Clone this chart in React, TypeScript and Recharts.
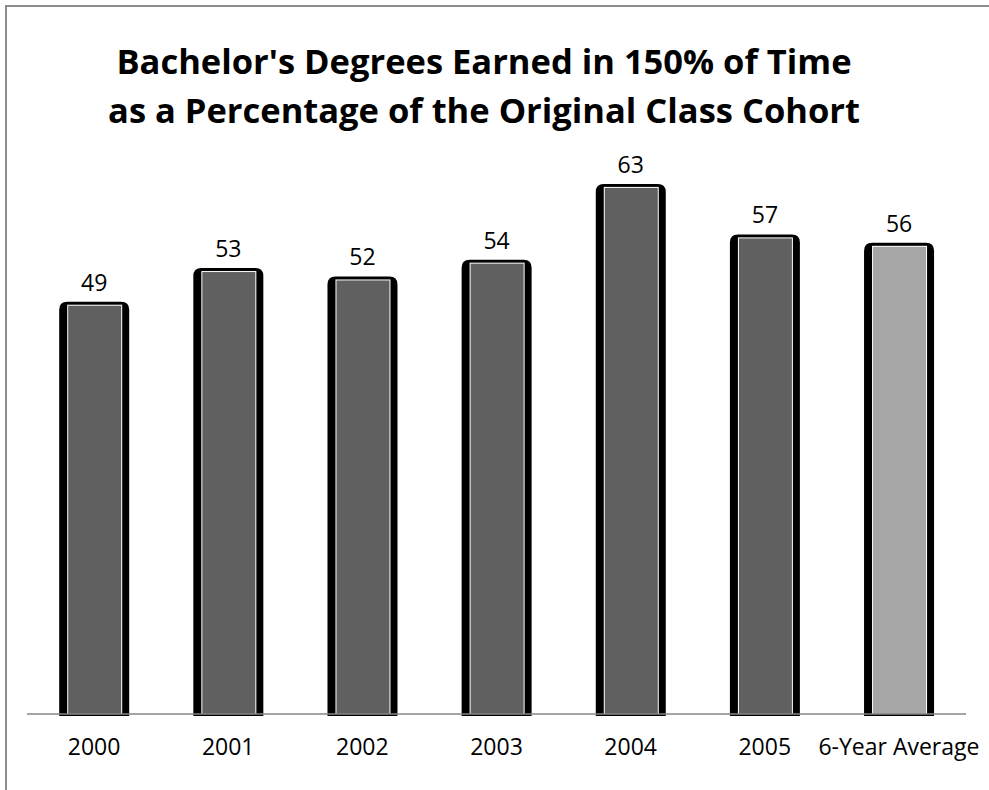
import { Bar, BarChart, Cell, LabelList, XAxis, YAxis } from "recharts";

const categories = ["2000", "2001", "2002", "2003", "2004", "2005", "6-Year Average"];
const rates = [49, 53, 52, 54, 63, 57, 56];
const titleLines = [
  "Bachelor's Degrees Earned in 150% of Time",
  "as a Percentage of the Original Class Cohort",
];

const data = categories.map((year, i) => ({ year, rate: rates[i] }));

const FONT = "'Open Sans', 'Noto Sans', sans-serif";

// black rounded frame, thin white rim, grey fill
function FramedBar(props: any) {
  const { x, y, width, height, fill } = props;
  if (height <= 0) return null;
  const r = 8;
  const bottom = y + height + 2;
  const outline = `M${x},${bottom} L${x},${y + r} Q${x},${y} ${x + r},${y} L${x + width - r},${y} Q${x + width},${y} ${x + width},${y + r} L${x + width},${bottom} Z`;
  return (
    <g>
      <path d={outline} fill="#000" />
      <rect x={x + 8} y={y + 3} width={width - 15} height={height - 3} fill="#fff" />
      <rect x={x + 9} y={y + 4} width={width - 17} height={height - 4} fill={fill} />
    </g>
  );
}

export default function App() {
  return (
    <div style={{ position: "absolute", left: 0, top: 0, width: 989, height: 790, background: "#fff", overflow: "hidden" }}>
      <div
        style={{
          position: "absolute",
          left: 5,
          top: 5,
          width: 1000,
          height: 800,
          borderLeft: "2px solid #8c8c8c",
          borderTop: "2px solid #8c8c8c",
        }}
      />
      <div
        style={{
          position: "absolute",
          left: 0,
          top: 36,
          width: 968,
          textAlign: "center",
          fontFamily: FONT,
          fontWeight: 700,
          fontSize: 34.5,
          lineHeight: "49px",
          color: "#000",
        }}
      >
        {titleLines.map((t) => (
          <div key={t}>{t}</div>
        ))}
      </div>
      <div style={{ position: "absolute", left: 0, top: 0 }}>
        <BarChart
          width={989}
          height={790}
          data={data}
          margin={{ top: 125, right: 23, bottom: 0, left: 27 }}
          barCategoryGap="24%"
        >
          <XAxis
            dataKey="year"
            height={76}
            axisLine={{ stroke: "#868686", strokeWidth: 1.5 }}
            tickLine={false}
            interval={0}
            tick={{ fill: "#000", fontSize: 23, fontFamily: FONT }}
            tickMargin={19}
          />
          <YAxis hide domain={[0, 70]} />
          <Bar dataKey="rate" shape={<FramedBar />} isAnimationActive={false}>
            {data.map((d) => (
              <Cell key={d.year} fill={d.year === "6-Year Average" ? "#a6a6a6" : "#606060"} />
            ))}
            <LabelList
              dataKey="rate"
              position="top"
              offset={11}
              style={{ fill: "#000", fontSize: 23, fontFamily: FONT }}
            />
          </Bar>
        </BarChart>
      </div>
    </div>
  );
}
